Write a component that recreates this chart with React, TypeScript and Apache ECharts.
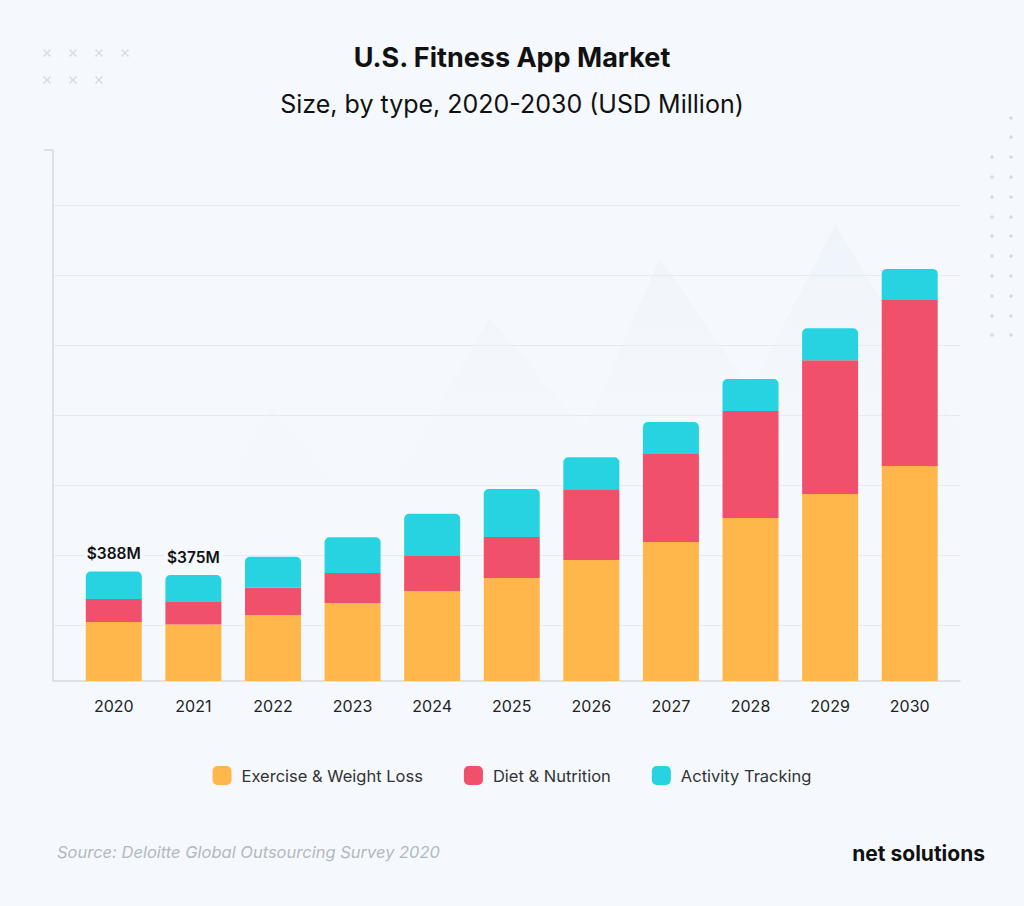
import React, { useEffect, useRef } from "react";
import * as echarts from "echarts";

const years = ["2020", "2021", "2022", "2023", "2024", "2025", "2026", "2027", "2028", "2029", "2030"];
const exerciseWeightLoss = [209, 200, 234, 276, 319, 365, 428, 492, 577, 662, 761];
const dietNutrition = [81, 82, 96, 106, 124, 145, 251, 312, 379, 474, 588];
const activityTracking = [98, 93, 110, 127, 149, 170, 113, 113, 113, 113, 110];
const labelledYears = [0, 1];
const gridValues = [198, 446, 694, 942, 1190, 1437, 1685];
const axisMax = 1880;

const totals = years.map((_, i) => exerciseWeightLoss[i] + dietNutrition[i] + activityTracking[i]);

const FONT = "Inter, 'Noto Sans', sans-serif";
const BG = "#F5F9FD";
const COLORS = { ex: "#FFB74C", diet: "#F0506A", act: "#27D3E0" };

function decorations(): any[] {
  const els: any[] = [];
  const crosses = [
    [47, 53], [73, 53], [99, 53], [125, 53],
    [47, 80], [73, 80], [99, 80],
  ];
  crosses.forEach(([cx, cy]) => {
    const s = 3.5;
    els.push({ type: "line", silent: true, z: 0, shape: { x1: cx - s, y1: cy - s, x2: cx + s, y2: cy + s }, style: { stroke: "#d9dde3", lineWidth: 1.6 } });
    els.push({ type: "line", silent: true, z: 0, shape: { x1: cx - s, y1: cy + s, x2: cx + s, y2: cy - s }, style: { stroke: "#d9dde3", lineWidth: 1.6 } });
  });
  const rowsY = [118, 137, 157, 177, 197, 217, 236, 256, 276, 296, 316, 335];
  rowsY.forEach((y, i) => {
    els.push({ type: "circle", silent: true, z: 0, shape: { cx: 1011, cy: y, r: 1.8 }, style: { fill: "#d6dbe2" } });
    if (i >= 2) els.push({ type: "circle", silent: true, z: 0, shape: { cx: 992, cy: y, r: 1.8 }, style: { fill: "#d6dbe2" } });
  });
  els.push({
    type: "polygon",
    silent: true,
    z: -1,
    shape: { points: [[170, 600], [270, 405], [370, 520], [490, 318], [585, 430], [660, 258], [750, 390], [835, 225], [960, 430], [960, 600]] },
    style: {
      fill: new echarts.graphic.LinearGradient(0, 0, 0, 1, [
        { offset: 0, color: "rgba(228,235,246,0.35)" },
        { offset: 1, color: "rgba(245,249,253,0)" },
      ]),
    },
  });
  els.push({ type: "text", silent: true, x: 57, y: 852, style: { text: "Source: Deloitte Global Outsourcing Survey 2020", font: `italic 16.5px ${FONT}`, fill: "#b3b8bf", textVerticalAlign: "middle" } });
  els.push({ type: "text", silent: true, x: 985, y: 853, style: { text: "net solutions", font: `bold 21px ${FONT}`, fill: "#111111", textAlign: "right", textVerticalAlign: "middle" } });
  return els;
}

export default function App() {
  const ref = useRef<HTMLDivElement>(null);
  useEffect(() => {
    if (!ref.current) return;
    const chart = echarts.init(ref.current, null, { renderer: "svg" });
    const option: any = {
      animation: false,
      backgroundColor: BG,
      textStyle: { fontFamily: FONT },
      title: [
        { text: "U.S. Fitness App Market", left: "center", top: 39, textStyle: { fontSize: 27, fontWeight: "bold", color: "#111111", fontFamily: FONT } },
        { text: "Size, by type, 2020-2030 (USD Million)", left: "center", top: 86, textStyle: { fontSize: 25, fontWeight: "normal", color: "#111111", fontFamily: FONT } },
      ],
      legend: {
        top: 761,
        left: "center",
        icon: "roundRect",
        itemWidth: 19,
        itemHeight: 19,
        itemGap: 41,
        textStyle: { fontSize: 16.5, color: "#333333", fontFamily: FONT, padding: [0, 0, 0, 5] },
        data: ["Exercise & Weight Loss", "Diet & Nutrition", "Activity Tracking"],
      },
      grid: [
        { left: 74, right: 74.5, top: 150, bottom: 225 },
        { left: 53, right: 64, top: 150, bottom: 225 },
      ],
      xAxis: [
        {
          type: "category",
          gridIndex: 0,
          data: years,
          axisLine: { show: false },
          axisTick: { show: false },
          axisLabel: { margin: 17, fontSize: 16, color: "#222222", fontFamily: FONT },
        },
        {
          type: "value",
          gridIndex: 1,
          min: 0,
          max: 1,
          axisLine: { show: true, lineStyle: { color: "#d5dae1", width: 1.5 } },
          axisTick: { show: false },
          axisLabel: { show: false },
          splitLine: { show: false },
        },
      ],
      yAxis: [
        { type: "value", gridIndex: 0, min: 0, max: axisMax, show: false, splitLine: { show: false } },
        {
          type: "value",
          gridIndex: 1,
          min: 0,
          max: axisMax,
          axisLine: { show: true, lineStyle: { color: "#d5dae1", width: 1.5 } },
          axisTick: { show: true, customValues: [axisMax], length: 9, lineStyle: { color: "#d5dae1", width: 1.5 } },
          axisLabel: { show: false },
          splitLine: { show: false },
        },
      ],
      series: [
        {
          name: "grid",
          type: "line",
          xAxisIndex: 1,
          yAxisIndex: 1,
          data: [],
          silent: true,
          z: 0,
          markLine: {
            silent: true,
            z: 0,
            symbol: "none",
            label: { show: false },
            lineStyle: { color: "#e6ebf1", type: "solid", width: 1.2 },
            data: gridValues.map((v) => ({ yAxis: v })),
          },
        },
        {
          name: "Exercise & Weight Loss",
          type: "bar",
          stack: "total",
          barWidth: 56,
          z: 10,
          itemStyle: { color: COLORS.ex },
          data: exerciseWeightLoss,
        },
        {
          name: "Diet & Nutrition",
          type: "bar",
          stack: "total",
          barWidth: 56,
          z: 10,
          itemStyle: { color: COLORS.diet },
          data: dietNutrition,
        },
        {
          name: "Activity Tracking",
          type: "bar",
          stack: "total",
          barWidth: 56,
          z: 10,
          itemStyle: { color: COLORS.act, borderRadius: [5, 5, 0, 0] },
          label: {
            position: "top",
            distance: 8,
            fontSize: 15.5,
            fontWeight: 600,
            color: "#111111",
            fontFamily: FONT,
            backgroundColor: BG,
            padding: [2, 3],
            formatter: (p: any) => "$" + totals[p.dataIndex] + "M",
          },
          data: activityTracking.map((v, i) => ({ value: v, label: { show: labelledYears.includes(i) } })),
        },
      ],
      graphic: decorations(),
    };
    chart.setOption(option);
    return () => chart.dispose();
  }, []);
  return <div ref={ref} style={{ position: "fixed", left: 0, top: 0, width: 1024, height: 906 }} />;
}
